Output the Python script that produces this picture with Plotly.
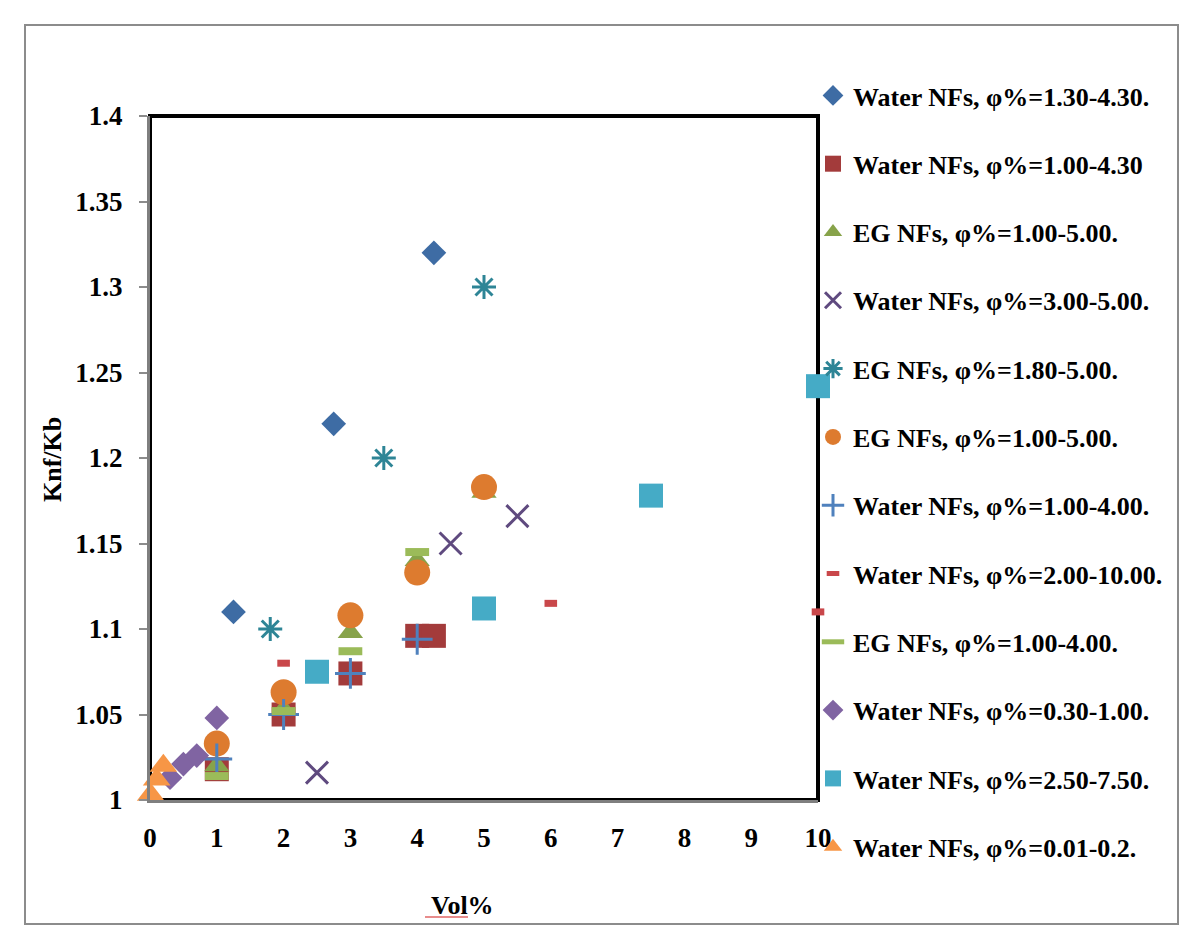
import plotly.graph_objects as go

# ---- data ----
names = [
    "Water NFs, φ%=1.30-4.30.",
    "Water NFs, φ%=1.00-4.30",
    "EG NFs, φ%=1.00-5.00.",
    "Water NFs, φ%=3.00-5.00.",
    "EG NFs, φ%=1.80-5.00.",
    "EG NFs, φ%=1.00-5.00.",
    "Water NFs, φ%=1.00-4.00.",
    "Water NFs, φ%=2.00-10.00.",
    "EG NFs, φ%=1.00-4.00.",
    "Water NFs, φ%=0.30-1.00.",
    "Water NFs, φ%=2.50-7.50.",
    "Water NFs, φ%=0.01-0.2.",
]
x1 = [1.25, 2.75, 4.25];            y1 = [1.11, 1.22, 1.32]
x2 = [1, 2, 3, 4, 4.25];            y2 = [1.018, 1.05, 1.074, 1.096, 1.096]
x3 = [1, 2, 3, 4, 5];               y3 = [1.02, 1.053, 1.098, 1.14, 1.18]
x4 = [2.5, 4.5, 5.5];               y4 = [1.016, 1.15, 1.166]
x5 = [1.8, 3.5, 5];                 y5 = [1.1, 1.2, 1.3]
x6 = [1, 2, 3, 4, 5];               y6 = [1.033, 1.063, 1.108, 1.133, 1.183]
x7 = [1, 2, 3, 4];                  y7 = [1.024, 1.05, 1.074, 1.094]
x8 = [2, 6, 10];                    y8 = [1.08, 1.115, 1.11]
x9 = [1, 2, 3, 4];                  y9 = [1.014, 1.052, 1.087, 1.145]
x10 = [0.3, 0.5, 0.7, 1.0];         y10 = [1.013, 1.021, 1.026, 1.048]
x11 = [2.5, 5, 7.5, 10];            y11 = [1.075, 1.112, 1.178, 1.242]
x12 = [0.01, 0.1, 0.2];             y12 = [1.003, 1.012, 1.02]

xs = [x1, x2, x3, x4, x5, x6, x7, x8, x9, x10, x11, x12]
ys = [y1, y2, y3, y4, y5, y6, y7, y8, y9, y10, y11, y12]

x_ticks = list(range(0, 11))
y_ticks = [1, 1.05, 1.1, 1.15, 1.2, 1.25, 1.3, 1.35, 1.4]
y_tick_text = ["1", "1.05", "1.1", "1.15", "1.2", "1.25", "1.3", "1.35", "1.4"]

# ---- styles ----
styles = [
    dict(symbol="diamond", size=19, color="#3E6CA4"),
    dict(symbol="square", size=24, color="#A33B3B"),
    dict(symbol="triangle-up", size=22, color="#87A34A"),
    dict(symbol="x-thin-open", size=22, color="#5F4A7F", line=dict(width=3, color="#5F4A7F")),
    dict(symbol="asterisk-open", size=20, color="#2E8596", line=dict(width=3, color="#2E8596")),
    dict(symbol="circle", size=26, color="#DD7B2F"),
    dict(symbol="cross-thin-open", size=22, color="#4F81BD", line=dict(width=3, color="#4F81BD")),
    dict(symbol="line-ew-open", size=9, color="#C9474A", line=dict(width=7, color="#C9474A")),
    dict(symbol="line-ew-open", size=17, color="#9BBB59", line=dict(width=8, color="#9BBB59")),
    dict(symbol="diamond", size=19, color="#8064A2"),
    dict(symbol="square", size=24, color="#45ABC6"),
    dict(symbol="triangle-up", size=24, color="#F79646"),
]

FONT = "Liberation Serif"

# plot area in figure pixels
L, R, T, B = 142, 810, 108, 792
PW, PH = R - L, B - T


def px(xp):
    return (xp - L) / PW


def py(yp):
    return (B - yp) / PH


fig = go.Figure()
for i, (nm, xv, yv, st) in enumerate(zip(names, xs, ys, styles)):
    mk = dict(symbol=st["symbol"], size=st["size"], color=st["color"])
    if "line" in st:
        mk["line"] = st["line"]
    else:
        mk["line"] = dict(width=0)
    fig.add_trace(go.Scatter(
        x=xv, y=yv, mode="markers", name=nm, marker=mk,
        legendgroup=f"g{i}", cliponaxis=False,
    ))

fig.update_layout(
    width=1200, height=942,
    margin=dict(l=L, r=1200 - R, t=T, b=942 - B),
    paper_bgcolor="white", plot_bgcolor="white",
    font=dict(family=FONT, color="black", size=24),
    showlegend=True,
    legend=dict(
        x=px(805), y=py(64), xanchor="left", yanchor="top",
        traceorder="grouped", tracegroupgap=31.5,
        font=dict(family=FONT, size=26, color="black", weight="bold"),
        itemwidth=30, bgcolor="rgba(0,0,0,0)", maxheight=900,
    ),
    xaxis=dict(
        range=[0, 10], tickvals=x_ticks, showgrid=False, zeroline=False,
        showline=True, linecolor="#7F7F7F", linewidth=3,
        ticks="", ticklabelstandoff=12,
        tickfont=dict(family=FONT, size=27, color="black", weight="bold"),
    ),
    yaxis=dict(
        range=[1, 1.4], tickvals=y_ticks, ticktext=y_tick_text,
        showgrid=False, zeroline=False,
        showline=True, linecolor="#7F7F7F", linewidth=3,
        ticks="outside", ticklen=8, tickwidth=2, tickcolor="#8C8C8C",
        ticklabelstandoff=11,
        tickfont=dict(family=FONT, size=27, color="black", weight="bold"),
    ),
    annotations=[
        dict(text="Knf/Kb", xref="paper", yref="paper",
             x=px(44), y=py(452), textangle=-90,
             showarrow=False, xanchor="center", yanchor="middle",
             font=dict(family=FONT, size=26, color="black", weight="bold")),
        dict(text="Vol%", xref="paper", yref="paper",
             x=px(454), y=py(897),
             showarrow=False, xanchor="center", yanchor="middle",
             font=dict(family=FONT, size=26, color="black", weight="bold")),
    ],
    shapes=[
        # outer chart border
        dict(type="rect", xref="paper", yref="paper",
             x0=px(17), x1=px(1170), y0=py(916), y1=py(17),
             line=dict(color="#8C8C8C", width=2), layer="below"),
        # plot area frame
        dict(type="rect", xref="paper", yref="paper", x0=0, x1=1, y0=0, y1=1,
             line=dict(color="black", width=4), layer="below"),
        # spell-check underline under "Vol"
        dict(type="line", xref="paper", yref="paper",
             x0=px(417), x1=px(460), y0=py(909), y1=py(909),
             line=dict(color="#E06666", width=1.5)),
    ],
)

fig.write_html("out.html")
